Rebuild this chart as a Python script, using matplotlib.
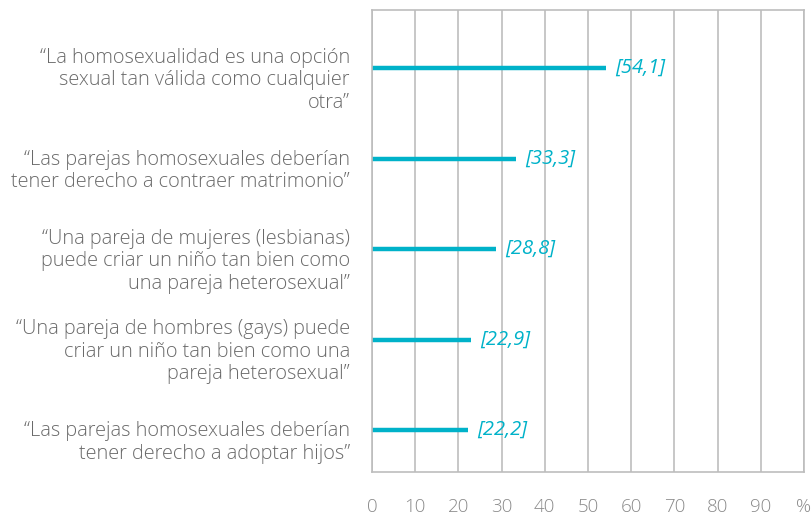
import matplotlib
matplotlib.use("Agg")
import matplotlib.pyplot as plt
from matplotlib.transforms import ScaledTranslation

categories = [
    "“La homosexualidad es una opción\nsexual tan válida como cualquier\notra”",
    "“Las parejas homosexuales deberían\ntener derecho a contraer matrimonio”",
    "“Una pareja de mujeres (lesbianas)\npuede criar un niño tan bien como\nuna pareja heterosexual”",
    "“Una pareja de hombres (gays) puede\ncriar un niño tan bien como una\npareja heterosexual”",
    "“Las parejas homosexuales deberían\ntener derecho a adoptar hijos”",
]
values = [54.1, 33.3, 28.8, 22.9, 22.2]
value_labels = ["[54,1]", "[33,3]", "[28,8]", "[22,9]", "[22,2]"]
tick_values = [0, 10, 20, 30, 40, 50, 60, 70, 80, 90, 100]
tick_labels = ["0", "10", "20", "30", "40", "50", "60", "70", "80", "90", "%"]

plt.rcParams['font.family'] = ['Open Sans', 'DejaVu Sans']

fig = plt.figure(figsize=(8.12, 5.16), dpi=100)
ax = fig.add_axes([372/812, 44/516, 432/812, 462/516])

bar_color = "#00b2c9"
grid_color = "#bdbdbd"

ys = list(range(len(values)))
ax.hlines(ys, 0, values, colors=bar_color, linewidth=3.2, capstyle='butt')
for y, v, lab in zip(ys, values, value_labels):
    ax.text(v + 2.1, y, lab, color=bar_color, fontsize=14.5, fontstyle='italic',
            va='center', ha='left')

ax.set_xlim(0, 100)
ax.set_ylim(4.464, -0.641)
ax.set_xticks(tick_values)
ax.set_xticklabels(tick_labels, color="#8a8a8a", fontsize=13.5, fontweight='light')
ax.tick_params(axis='x', length=0, pad=19)
ax.set_yticks(ys)
ax.set_yticklabels(categories, color="#6a6a6a", fontsize=14.3, fontweight='light',
                   linespacing=1.17)
ax.tick_params(axis='y', length=0, pad=16)
shift = ScaledTranslation(0, -0.085, fig.dpi_scale_trans)
for lbl in ax.get_yticklabels():
    lbl.set_multialignment('right')
    lbl.set_transform(lbl.get_transform() + shift)

ax.grid(axis='x', color=grid_color, linewidth=1.2)
ax.set_axisbelow(True)
for s in ax.spines.values():
    s.set_color(grid_color)
    s.set_linewidth(1.2)

fig.savefig("out.png", dpi=100)
